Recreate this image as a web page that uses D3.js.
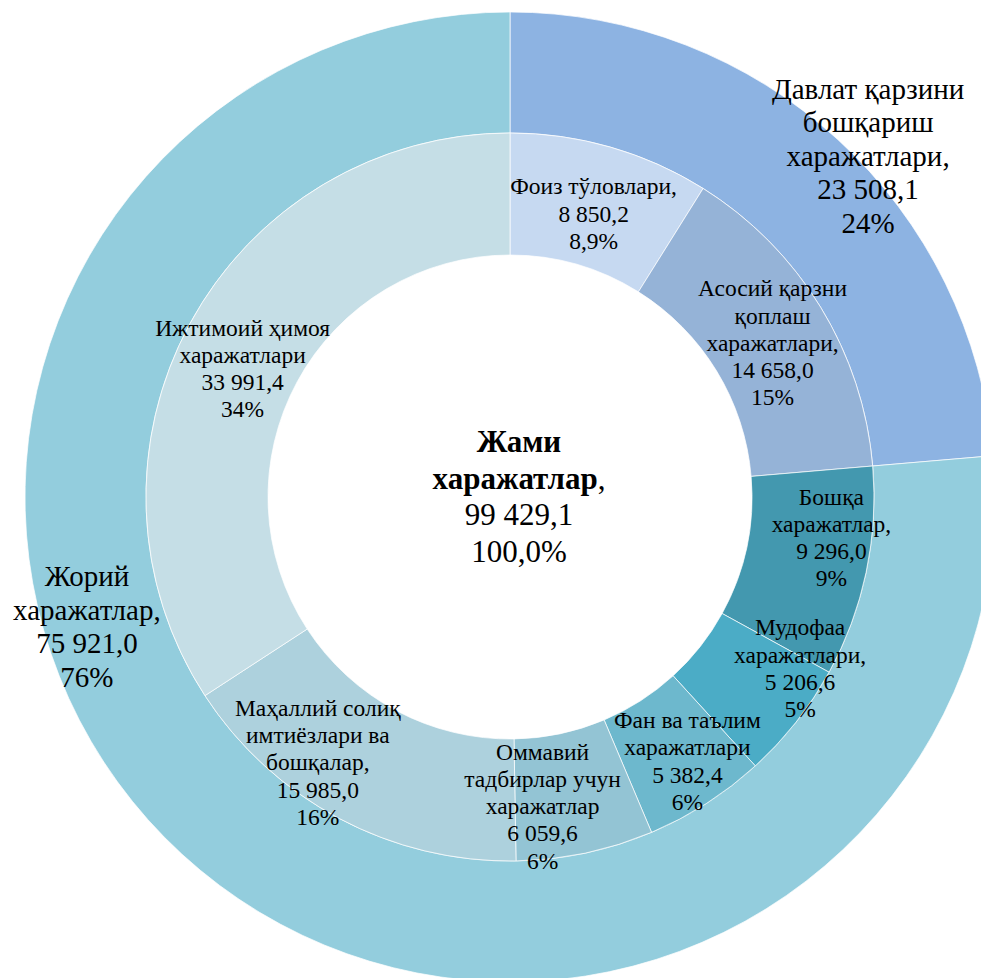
<!DOCTYPE html>
<html>
<head>
<meta charset="utf-8">
<script src="https://cdn.jsdelivr.net/npm/d3@7"></script>
<style>
  html, body { margin: 0; padding: 0; background: #fff; }
  svg { display: block; }
  text { font-family: "Times New Roman", "Liberation Serif", serif; fill: #000; }
</style>
</head>
<body>
<script>
// ---- data ----
const outerCategories = ["Давлат қарзини\nбошқариш\nхаражатлари,", "Жорий\nхаражатлар,"];
const outerValues = [23508.1, 75921.0];
const outerPercents = ["24%", "76%"];

const innerCategories = [
  "Фоиз тўловлари,",
  "Асосий қарзни\nқоплаш\nхаражатлари,",
  "Бошқа\nхаражатлар,",
  "Мудофаа\nхаражатлари,",
  "Фан ва таълим\nхаражатлари",
  "Оммавий\nтадбирлар учун\nхаражатлар",
  "Маҳаллий солиқ\nимтиёзлари ва\nбошқалар,",
  "Ижтимоий ҳимоя\nхаражатлари"
];
const innerValues = [8850.2, 14658.0, 9296.0, 5206.6, 5382.4, 6059.6, 15985.0, 33991.4];
const innerPercents = ["8,9%", "15%", "9%", "5%", "6%", "6%", "16%", "34%"];

const totalLabel = ["Жами", "харажатлар", "99 429,1", "100,0%"];

// ---- styles / layout ----
const outerColors = ["#8DB3E2", "#93CDDD"];
const innerColors = ["#C6D9F1", "#95B3D7", "#4398AF", "#4BACC6", "#6DB8CD", "#93C4D4", "#ADD1DD", "#C5DEE6"];
// label nudges from arc centroid (px)
const innerLabelOffsets = [[0, 8], [4, 4], [25, -22], [52, -16], [14, 9], [-30, 13], [-50, -2], [-1, 16]];
const outerLabelOffsets = [[71, -28], [-136, -183]];

const W = 981, H = 978;
const cx = 510, cy = 497;
const rHole = 242, rMid = 364, rOuter = 485;

const fmt = v => {
  const s = v.toFixed(1).split(".");
  return s[0].replace(/\B(?=(\d{3})+(?!\d))/g, " ") + "," + s[1];
};

const svg = d3.select("body").append("svg").attr("width", W).attr("height", H);
const g = svg.append("g").attr("transform", `translate(${cx},${cy})`);

const pie = d3.pie().sort(null).value(d => d);
const outerArcs = pie(outerValues);
const innerArcs = pie(innerValues);

const outerArc = d3.arc().innerRadius(rMid).outerRadius(rOuter);
const innerArc = d3.arc().innerRadius(rHole).outerRadius(rMid);

g.append("g").selectAll("path").data(outerArcs).join("path")
  .attr("d", outerArc)
  .attr("fill", (d, i) => outerColors[i])
  .attr("stroke", "rgba(255,255,255,0.7)")
  .attr("stroke-width", 1);

g.append("g").selectAll("path").data(innerArcs).join("path")
  .attr("d", innerArc)
  .attr("fill", (d, i) => innerColors[i])
  .attr("stroke", "rgba(255,255,255,0.7)")
  .attr("stroke-width", 1);

function drawBlock(x, y, lines, fs, lh) {
  const t = g.append("text").attr("text-anchor", "middle").style("font-size", fs + "px");
  const n = lines.length;
  lines.forEach((ln, i) => {
    t.append("tspan").attr("x", x)
      .attr("y", y + (i - (n - 1) / 2) * lh + fs * 0.33)
      .text(ln);
  });
  return t;
}

innerArcs.forEach((a, i) => {
  const c = innerArc.centroid(a);
  const lines = innerCategories[i].split("\n").concat([fmt(innerValues[i]), innerPercents[i]]);
  drawBlock(c[0] + innerLabelOffsets[i][0], c[1] + innerLabelOffsets[i][1], lines, 23.5, 27.2);
});

outerArcs.forEach((a, i) => {
  const c = outerArc.centroid(a);
  const lines = outerCategories[i].split("\n").concat([fmt(outerValues[i]), outerPercents[i]]);
  drawBlock(c[0] + outerLabelOffsets[i][0], c[1] + outerLabelOffsets[i][1], lines, 29, 33.5);
});

// center label
const ctr = g.append("text").attr("text-anchor", "middle").style("font-size", "31px");
const clh = 36.5, cfs = 31, cX = 9, cY = 0;
ctr.append("tspan").attr("x", cX).attr("y", cY - 1.5 * clh + cfs * 0.33).style("font-weight", "bold").text(totalLabel[0]);
const l2 = ctr.append("tspan").attr("x", cX).attr("y", cY - 0.5 * clh + cfs * 0.33);
l2.append("tspan").style("font-weight", "bold").text(totalLabel[1]);
l2.append("tspan").text(",");
ctr.append("tspan").attr("x", cX).attr("y", cY + 0.5 * clh + cfs * 0.33).text(totalLabel[2]);
ctr.append("tspan").attr("x", cX).attr("y", cY + 1.5 * clh + cfs * 0.33).text(totalLabel[3]);
</script>
</body>
</html>
